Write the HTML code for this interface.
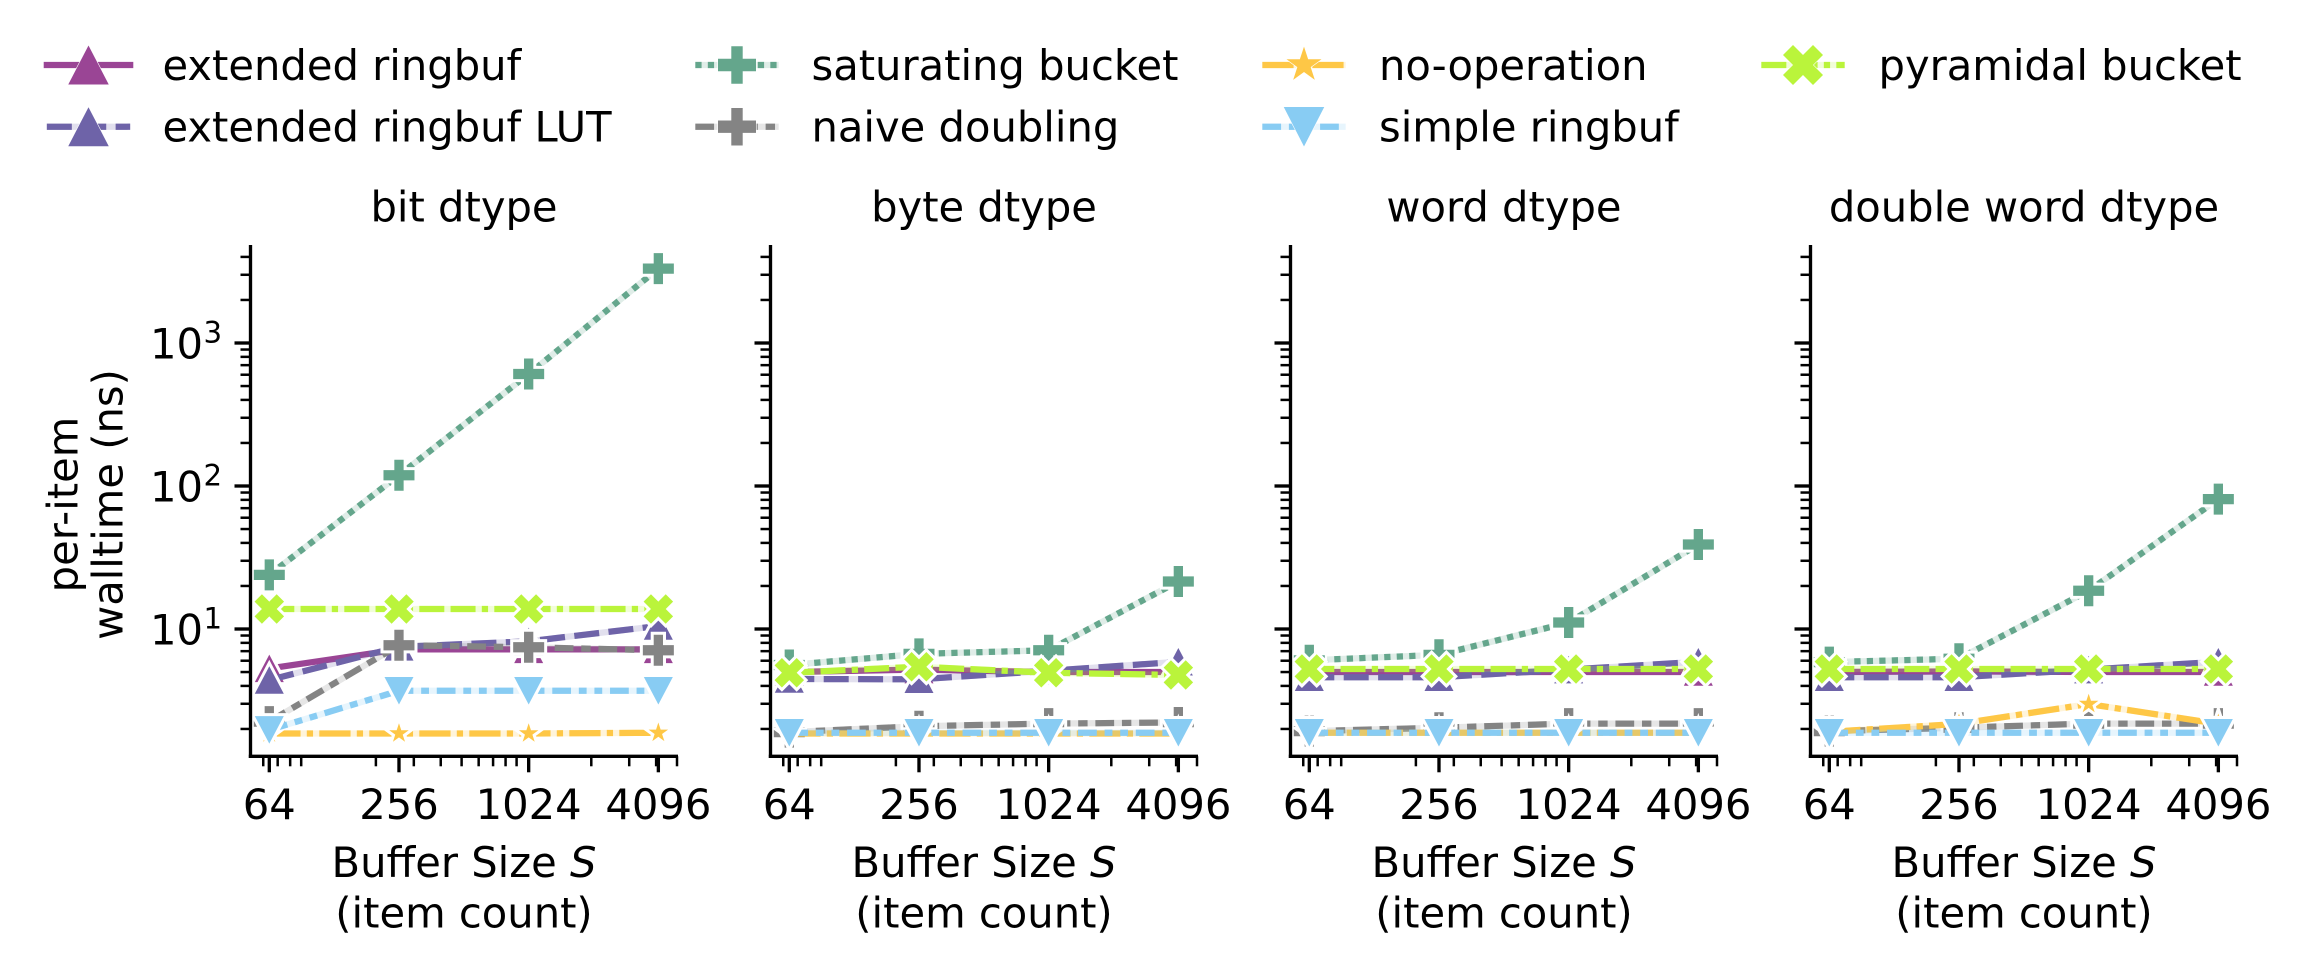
<!DOCTYPE html>
<html lang="en">
<head>
<meta charset="utf-8">
<title>Per-item walltime by buffer size</title>
<style>
  html, body { margin: 0; padding: 0; background: #ffffff; }
  svg { display: block; }
  text { font-family: "DejaVu Sans", "Liberation Sans", sans-serif; font-size: 41.67px; fill: #000000; }
</style>
</head>
<body>
<svg id="figure" xmlns="http://www.w3.org/2000/svg" width="2300" height="965" viewBox="0 0 2300 965">
  <rect x="0" y="0" width="2300" height="965" fill="#ffffff"/>

  <g id="series-layer"></g>

  <g id="legend-layer">
    <text x="162.5" y="80">extended ringbuf</text>
    <text x="162.5" y="141.7">extended ringbuf LUT</text>
    <text x="811.5" y="80">saturating bucket</text>
    <text x="811.5" y="141.7">naive doubling</text>
    <text x="1379" y="80">no-operation</text>
    <text x="1379" y="141.7">simple ringbuf</text>
    <text x="1878.5" y="80">pyramidal bucket</text>
  </g>

  <text x="464" y="221.5" text-anchor="middle">bit dtype</text>
  <text x="984" y="221.5" text-anchor="middle">byte dtype</text>
  <text x="1504" y="221.5" text-anchor="middle">word dtype</text>
  <text x="2024" y="221.5" text-anchor="middle">double word dtype</text>

  <g transform="translate(0,504.5) rotate(-90)">
    <text x="0" y="77.3" text-anchor="middle">per-item</text>
    <text x="0" y="122.7" text-anchor="middle">walltime (ns)</text>
  </g>

  <g>
    <text x="464" y="877" text-anchor="middle">Buffer Size <tspan font-style="italic">S</tspan></text>
    <text x="464" y="927.5" text-anchor="middle">(item count)</text>
  </g>
  <g>
    <text x="984" y="877" text-anchor="middle">Buffer Size <tspan font-style="italic">S</tspan></text>
    <text x="984" y="927.5" text-anchor="middle">(item count)</text>
  </g>
  <g>
    <text x="1504" y="877" text-anchor="middle">Buffer Size <tspan font-style="italic">S</tspan></text>
    <text x="1504" y="927.5" text-anchor="middle">(item count)</text>
  </g>
  <g>
    <text x="2024" y="877" text-anchor="middle">Buffer Size <tspan font-style="italic">S</tspan></text>
    <text x="2024" y="927.5" text-anchor="middle">(item count)</text>
  </g>
</svg>

<script>
// Categories and tick labels
const bufferSizes = [64, 256, 1024, 4096];
const xMinorTicks = [60, 70, 80, 90, 200, 300, 400, 500, 600, 700, 800, 900, 2000, 3000, 4000, 5000];
const yMajorExponents = [1, 2, 3];
const yMinorTicks = [2, 3, 4, 5, 6, 7, 8, 9, 20, 30, 40, 50, 60, 70, 80, 90, 200, 300, 400, 500, 600, 700, 800, 900, 2000, 3000, 4000];
const panelKeys = ['bit', 'byte', 'word', 'double-word'];

// Series values: one row per panel (bit, byte, word, double word), one value per buffer size
const extendedRingbuf = [[5.3, 7.2, 7.2, 7.2], [5.0, 5.2, 5.0, 5.0], [5.0, 5.0, 5.0, 5.0], [5.0, 5.05, 5.0, 5.0]];
const extendedRingbufLut = [[4.4, 7.5, 8.2, 10.5], [4.47, 4.45, 5.1, 5.9], [4.6, 4.6, 5.2, 5.9], [4.6, 4.6, 5.2, 5.9]];
const saturatingBucket = [[23.9, 119, 607, 3310], [5.6, 6.7, 7.1, 21.5], [6.04, 6.6, 11.1, 39], [5.87, 6.2, 18.5, 81]];
const naiveDoubling = [[2.25, 7.7, 7.45, 7.1], [1.9, 2.09, 2.18, 2.22], [1.93, 2.04, 2.18, 2.18], [1.93, 2.04, 2.18, 2.18]];
const noOperation = [[1.86, 1.86, 1.86, 1.88], [1.86, 1.86, 1.86, 1.86], [1.88, 1.88, 1.88, 1.88], [1.91, 2.17, 2.99, 2.17]];
const simpleRingbuf = [[1.97, 3.7, 3.7, 3.7], [1.88, 1.88, 1.88, 1.88], [1.88, 1.88, 1.88, 1.88], [1.88, 1.88, 1.88, 1.88]];
const pyramidalBucket = [[13.8, 13.8, 13.8, 13.8], [4.94, 5.45, 4.94, 4.77], [5.25, 5.25, 5.25, 5.25], [5.25, 5.25, 5.25, 5.25]];

// Styling, kept apart from the data
const SVG_NS = 'http://www.w3.org/2000/svg';
const LW = 6.25;
const seriesList = [
  { key: 'extended-ringbuf', values: extendedRingbuf, color: '#9a4595', dash: [], marker: 'up' },
  { key: 'extended-ringbuf-lut', values: extendedRingbufLut, color: '#6e63a8', dash: [25, 9.4], marker: 'up' },
  { key: 'saturating-bucket', values: saturatingBucket, color: '#64a68c', dash: [6.25, 6.25], marker: 'plus' },
  { key: 'naive-doubling', values: naiveDoubling, color: '#848484', dash: [18.75, 7.8, 9.4, 7.8], marker: 'plus' },
  { key: 'no-operation', values: noOperation, color: '#fec746', dash: [31.25, 6.25, 6.25, 6.25], marker: 'star' },
  { key: 'simple-ringbuf', values: simpleRingbuf, color: '#88ccf3', dash: [18.75, 7.8, 7.8, 7.8, 7.8, 7.8], marker: 'down' },
  { key: 'pyramidal-bucket', values: pyramidalBucket, color: '#baf43b', dash: [25, 6.25, 25, 6.25, 6.25, 6.25], marker: 'x' }
];
const legendSlots = [
  { series: 0, cx: 88.5, cy: 65 },
  { series: 1, cx: 88.5, cy: 126.7 },
  { series: 2, cx: 737, cy: 65 },
  { series: 3, cx: 737, cy: 126.7 },
  { series: 4, cx: 1304, cy: 65 },
  { series: 5, cx: 1304, cy: 126.7 },
  { series: 6, cx: 1803, cy: 65 }
];
const plotMarkerSize = { up: [29, 27.5], down: [29, 27.5], plus: [31, 31], x: [29.5, 29.5], star: [19.5, 19.5] };
const legendMarkerSize = { up: [40.5, 39], down: [40.5, 39.5], plus: [38, 37.5], x: [40, 40], star: [35, 35] };

// Axis geometry
const PANEL_STEP = 520;
const SPINE_LEFT = 250.5;
const SPINE_RIGHT = 678;
const SPINE_TOP = 245;
const SPINE_BOTTOM = 756.3;
const X_ORIGIN = 269.3;
const X_PER_DECADE = 215.4;
const Y_TEN = 629;
const Y_PER_DECADE = 143;

function xScale(value, panelIndex) {
  return X_ORIGIN + panelIndex * PANEL_STEP + X_PER_DECADE * Math.log10(value / bufferSizes[0]);
}
function yScale(value) {
  return Y_TEN - Y_PER_DECADE * (Math.log10(value) - 1);
}

function make(tag, attrs, parent) {
  const el = document.createElementNS(SVG_NS, tag);
  for (const k in attrs) el.setAttribute(k, attrs[k]);
  if (parent) parent.appendChild(el);
  return el;
}

function markerPath(kind, w, h) {
  const pts = [];
  if (kind === 'up') {
    pts.push([0, -h / 2], [w / 2, h / 2], [-w / 2, h / 2]);
  } else if (kind === 'down') {
    pts.push([0, h / 2], [w / 2, -h / 2], [-w / 2, -h / 2]);
  } else if (kind === 'plus') {
    const a = w * 0.15, b = w / 2, c = h * 0.165, d = h / 2;
    pts.push([-a, -d], [a, -d], [a, -c], [b, -c], [b, c], [a, c], [a, d], [-a, d], [-a, c], [-b, c], [-b, -c], [-a, -c]);
  } else if (kind === 'x') {
    const u = w / 4, v = h / 4;
    pts.push([-u, -2 * v], [0, -v], [u, -2 * v], [2 * u, -v], [u, 0], [2 * u, v], [u, 2 * v], [0, v], [-u, 2 * v], [-2 * u, v], [-u, 0], [-2 * u, -v]);
  } else {
    const R = w / 1.902, r = R * 0.381966;
    for (let i = 0; i < 10; i++) {
      const rad = i % 2 === 0 ? R : r;
      const ang = -Math.PI / 2 + i * Math.PI / 5;
      pts.push([rad * Math.cos(ang), rad * Math.sin(ang)]);
    }
  }
  return 'M' + pts.map(p => p[0].toFixed(2) + ' ' + p[1].toFixed(2)).join('L') + 'Z';
}

function drawMarker(parent, kind, size, color, cx, cy, halo) {
  const el = make('path', {
    d: markerPath(kind, size[0], size[1]),
    transform: 'translate(' + cx.toFixed(2) + ',' + cy.toFixed(2) + ')',
    fill: color,
    stroke: '#ffffff',
    'stroke-width': halo * 2,
    'stroke-linejoin': 'miter',
    'stroke-miterlimit': 6,
    'paint-order': 'stroke'
  }, parent);
  return el;
}

function drawStroke(parent, d, style, solidCap) {
  const group = make('g', {}, parent);
  if (style.dash.length) {
    make('path', { d: d, fill: 'none', stroke: style.color, 'stroke-opacity': 0.2, 'stroke-width': LW, 'stroke-linejoin': 'round' }, group);
    make('path', { d: d, fill: 'none', stroke: style.color, 'stroke-width': LW, 'stroke-dasharray': style.dash.join(' '), 'stroke-linejoin': 'round' }, group);
  } else {
    make('path', { d: d, fill: 'none', stroke: style.color, 'stroke-width': LW, 'stroke-linejoin': 'round', 'stroke-linecap': solidCap }, group);
  }
  return group;
}

const seriesLayer = document.getElementById('series-layer');
const legendLayer = document.getElementById('legend-layer');

panelKeys.forEach((panelKey, p) => {
  const dx = p * PANEL_STEP;
  const panel = make('g', {}, seriesLayer);
  
  

  // Series (lines and markers)
  seriesList.forEach(style => {
    const vals = style.values[p];
    const group = make('g', {}, panel);
    
    
    const d = vals.map((v, i) => (i ? 'L' : 'M') + xScale(bufferSizes[i], p).toFixed(2) + ' ' + yScale(v).toFixed(2)).join('');
    const line = drawStroke(group, d, style, 'square');
    
    
    vals.forEach((v, i) => {
      const m = drawMarker(group, style.marker, plotMarkerSize[style.marker], style.color, xScale(bufferSizes[i], p), yScale(v), 3);
      
      
    });
  });

  // Spines
  const leftSpine = make('line', { x1: SPINE_LEFT + dx, x2: SPINE_LEFT + dx, y1: SPINE_TOP, y2: SPINE_BOTTOM + 1.7, stroke: '#000', 'stroke-width': 3.33 }, panel);
  
  
  const bottomSpine = make('line', { x1: SPINE_LEFT + dx - 1.7, x2: SPINE_RIGHT + dx, y1: SPINE_BOTTOM, y2: SPINE_BOTTOM, stroke: '#000', 'stroke-width': 3.33 }, panel);
  
  

  // X ticks
  xMinorTicks.forEach(v => {
    const x = xScale(v, p);
    const t = make('line', { x1: x, x2: x, y1: SPINE_BOTTOM, y2: SPINE_BOTTOM + 10, stroke: '#000', 'stroke-width': 2.5 }, panel);
    
    
  });
  bufferSizes.forEach(v => {
    const x = xScale(v, p);
    const t = make('line', { x1: x, x2: x, y1: SPINE_BOTTOM, y2: SPINE_BOTTOM + 16, stroke: '#000', 'stroke-width': 3.33 }, panel);
    
    
    const lab = make('text', { x: x, y: 819, 'text-anchor': 'middle' }, panel);
    lab.textContent = String(v);
    
    
  });

  // Y ticks
  yMinorTicks.forEach(v => {
    const y = yScale(v);
    const t = make('line', { x1: SPINE_LEFT + dx - 10, x2: SPINE_LEFT + dx, y1: y, y2: y, stroke: '#000', 'stroke-width': 2.5 }, panel);
    
    
  });
  yMajorExponents.forEach(exp => {
    const y = yScale(Math.pow(10, exp));
    const t = make('line', { x1: SPINE_LEFT + dx - 16, x2: SPINE_LEFT + dx, y1: y, y2: y, stroke: '#000', 'stroke-width': 3.33 }, panel);
    
    
    if (p === 0) {
      const base = make('text', { x: 150, y: y + 15.3 }, panel);
      base.textContent = '10';
      
      
      const sup = make('text', { x: 203.5, y: y - 0.5, style: 'font-size:29.2px' }, panel);
      sup.textContent = String(exp);
      
      
    }
  });
});

// Legend handles
legendSlots.forEach(slot => {
  const style = seriesList[slot.series];
  const handle = make('g', {}, legendLayer);
  
  
  const half = 41.67;
  const d = 'M' + (slot.cx - half) + ' ' + slot.cy + 'L' + (slot.cx + half) + ' ' + slot.cy;
  drawStroke(handle, d, style, 'square');
  drawMarker(handle, style.marker, legendMarkerSize[style.marker], style.color, slot.cx, slot.cy, 0.6);
});
</script>
</body>
</html>
